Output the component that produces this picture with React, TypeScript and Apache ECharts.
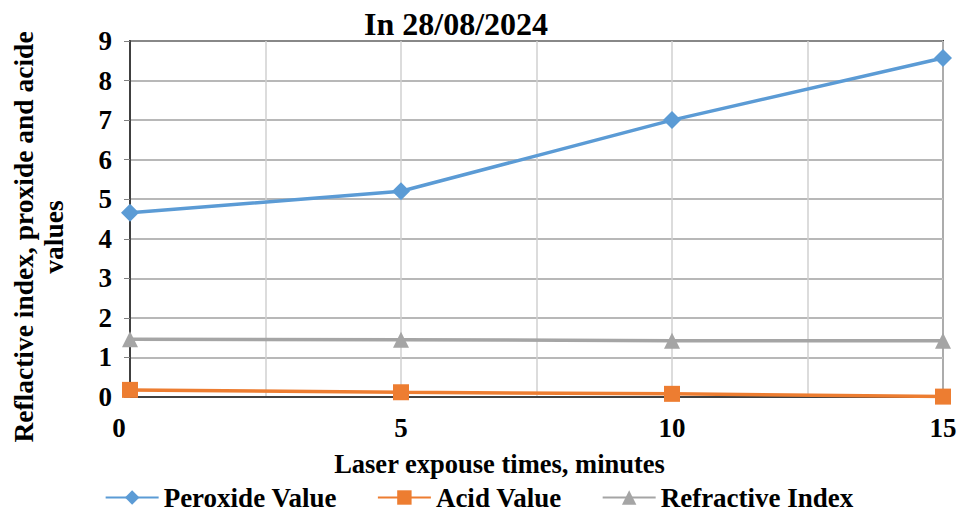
import React, { useEffect, useRef } from "react";
import * as echarts from "echarts";

const times = [0, 5, 10, 15];
const peroxideValue = [4.66, 5.2, 7.0, 8.57];
const acidValue = [0.18, 0.12, 0.08, 0.01];
const refractiveIndex = [1.46, 1.45, 1.42, 1.42];
const xTicks = [0, 5, 10, 15];

const FONT = "'Liberation Serif', 'Times New Roman', serif";
const FS = 27;

export default function App() {
  const ref = useRef<HTMLDivElement>(null);
  useEffect(() => {
    if (!ref.current) return;
    const chart = echarts.init(ref.current, undefined, { renderer: "svg" });
    const pair = (ys: number[]) => times.map((t, i) => [t, ys[i]]);
    chart.setOption({
      animation: false,
      backgroundColor: "#ffffff",
      title: {
        text: "In 28/08/2024",
        left: 451,
        textAlign: "center",
        top: 3,
        textStyle: { fontFamily: FONT, fontWeight: "bold", fontSize: 32, color: "#000" },
      },
      grid: {
        left: 130,
        right: 15,
        top: 41,
        bottom: 117,
        containLabel: false,
        outerBoundsMode: "none",
        show: true,
        borderColor: "#404040",
        borderWidth: 2,
      },
      xAxis: {
        type: "value",
        min: 0,
        max: 15,
        interval: 2.5,
        name: "Laser expouse times, minutes",
        nameLocation: "middle",
        nameGap: 53,
        nameTextStyle: {
          fontFamily: FONT,
          fontWeight: "bold",
          fontSize: 26.5,
          color: "#000",
          padding: [0, 74, 0, 0],
        },
        axisLine: { show: true, lineStyle: { color: "#404040", width: 2 } },
        axisTick: { show: false },
        axisLabel: {
          fontFamily: FONT,
          fontWeight: "bold",
          fontSize: FS,
          color: "#000",
          margin: 17,
          formatter: (v: number) =>
            xTicks.includes(v) ? (v === 0 ? "{z|0}" : String(v)) : "",
          rich: {
            z: { fontFamily: FONT, fontWeight: "bold", fontSize: FS, color: "#000", padding: [0, 22, 0, 0] },
          },
        },
        splitLine: { show: true, lineStyle: { color: "#d0d0d0", width: 1.5 } },
      },
      yAxis: {
        type: "value",
        min: 0,
        max: 9,
        interval: 1,
        name: "Reflactive index, proxide and acide\nvalues",
        nameLocation: "middle",
        nameRotate: 90,
        nameGap: 62,
        nameTextStyle: {
          fontFamily: FONT,
          fontWeight: "bold",
          fontSize: 27.5,
          color: "#000",
          lineHeight: 30,
          padding: [0, 36, 0, 0],
        },
        axisLine: { show: true, lineStyle: { color: "#404040", width: 2 } },
        axisTick: { show: true, length: 6, lineStyle: { color: "#808080" } },
        axisLabel: { fontFamily: FONT, fontWeight: "bold", fontSize: FS, color: "#000", margin: 18 },
        splitLine: { show: true, lineStyle: { color: "#a0a0a0", width: 1.5 } },
      },
      legend: {
        top: 479,
        left: "center",
        itemWidth: 53,
        itemHeight: 18,
        itemGap: 40,
        textStyle: { fontFamily: FONT, fontWeight: "bold", fontSize: FS, color: "#000" },
        data: ["Peroxide Value", "Acid Value", "Refractive Index"],
      },
      series: [
        {
          name: "Peroxide Value",
          type: "line",
          data: pair(peroxideValue),
          symbol: "diamond",
          symbolSize: 18,
          lineStyle: { color: "#5B9BD5", width: 3.5 },
          itemStyle: { color: "#5B9BD5" },
        },
        {
          name: "Acid Value",
          type: "line",
          data: pair(acidValue),
          symbol: "rect",
          symbolSize: 16,
          lineStyle: { color: "#ED7D31", width: 3.5 },
          itemStyle: { color: "#ED7D31" },
        },
        {
          name: "Refractive Index",
          type: "line",
          data: pair(refractiveIndex),
          symbol: "triangle",
          symbolSize: 16,
          lineStyle: { color: "#A5A5A5", width: 3.5 },
          itemStyle: { color: "#A5A5A5" },
        },
      ],
    });
    return () => chart.dispose();
  }, []);
  return (
    <div
      ref={ref}
      style={{ position: "fixed", left: 0, top: 0, width: 958, height: 514 }}
    />
  );
}
